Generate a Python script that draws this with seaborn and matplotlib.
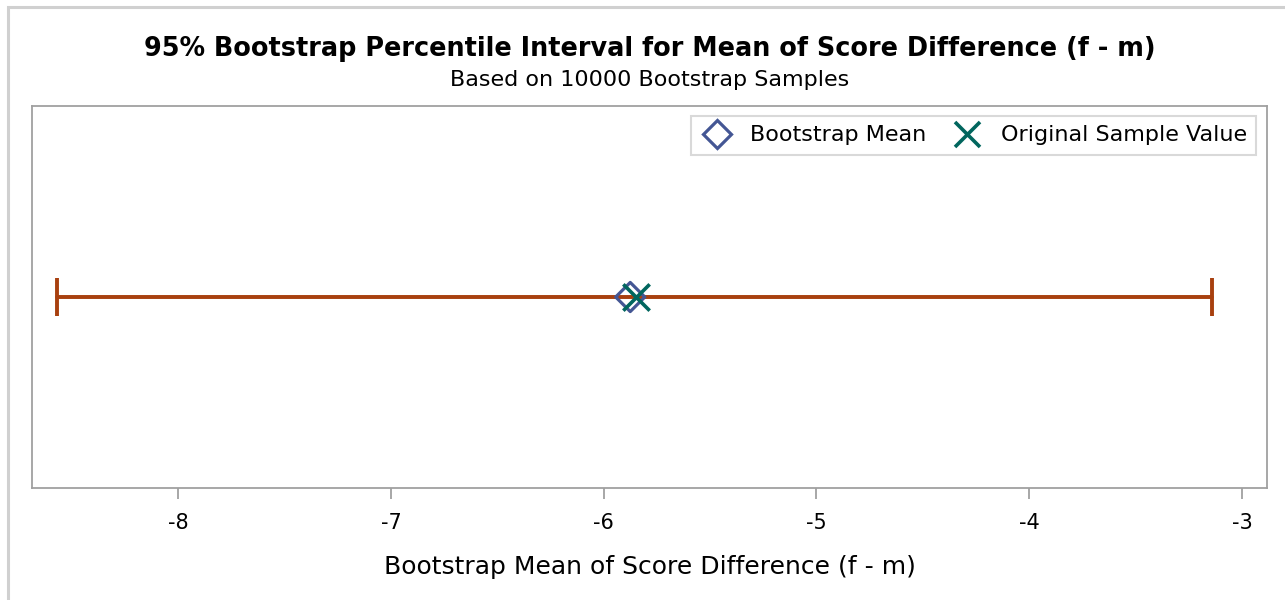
import matplotlib
matplotlib.use("Agg")
import matplotlib.pyplot as plt
import seaborn as sns
import pandas as pd
from matplotlib.patches import Rectangle
from matplotlib.lines import Line2D

# data
ci_lower = -8.57
ci_upper = -3.14
bootstrap_mean = -5.875
original_value = -5.85
xticks = [-8, -7, -6, -5, -4, -3]

title = "95% Bootstrap Percentile Interval for Mean of Score Difference (f - m)"
subtitle = "Based on 10000 Bootstrap Samples"
xlabel = "Bootstrap Mean of Score Difference (f - m)"

sns.set_theme(style="white")
plt.rcParams['font.family'] = ['DejaVu Sans']

C_BLUE = "#445694"
C_TEAL = "#01665E"
C_ERR = "#A8400F"
C_AX = "#A0A0A0"

fig = plt.figure(figsize=(12.85, 6.0), dpi=100)
ax = fig.add_axes([32/1285, (600-488)/600, (1267-32)/1285, (488-106)/600])

# outer frame
fig.patches.append(Rectangle((8/1285, -0.1), 1.2, (600-7)/600 + 0.1,
                             transform=fig.transFigure, fill=False,
                             edgecolor="#D0D0D0", linewidth=2.2, zorder=0))

df_ci = pd.DataFrame({"x": [ci_lower, ci_upper], "y": [0, 0]})
sns.lineplot(data=df_ci, x="x", y="y", ax=ax, color=C_ERR, linewidth=2.6,
             legend=False, zorder=2)
ax.errorbar([(ci_lower + ci_upper) / 2], [0],
            xerr=[[(ci_upper - ci_lower) / 2], [(ci_upper - ci_lower) / 2]],
            fmt="none", ecolor=C_ERR, elinewidth=2.6, capsize=14, capthick=2.8, zorder=2)

df_pts = pd.DataFrame({"x": [bootstrap_mean, original_value], "y": [0, 0],
                       "kind": ["Bootstrap Mean", "Original Sample Value"]})
sns.scatterplot(data=df_pts[df_pts.kind == "Bootstrap Mean"], x="x", y="y", ax=ax,
                marker="D", s=220, facecolor="none", edgecolor=C_BLUE,
                linewidth=2.3, zorder=3, legend=False)
sns.scatterplot(data=df_pts[df_pts.kind == "Original Sample Value"], x="x", y="y", ax=ax,
                marker="x", s=360, color=C_TEAL, linewidth=2.6, zorder=4, legend=False)

ax.set_xlim(-8.687, -2.882)
ax.set_ylim(-1, 1)
ax.set_yticks([])
ax.set_ylabel("")
ax.set_xticks(xticks)
ax.set_xticklabels([str(t) for t in xticks])
ax.tick_params(axis="x", direction="out", length=8, width=1.3, color=C_AX,
               labelsize=15, pad=10, labelcolor="black", bottom=True)
for sp in ax.spines.values():
    sp.set_color(C_AX)
    sp.set_linewidth(1.3)
ax.set_xlabel(xlabel, fontsize=18, labelpad=16, color="black")

handles = [
    Line2D([], [], marker="D", linestyle="none", markersize=14, markerfacecolor="none",
           markeredgecolor=C_BLUE, markeredgewidth=2.3, label="Bootstrap Mean"),
    Line2D([], [], marker="x", linestyle="none", markersize=18, color=C_TEAL,
           markeredgewidth=2.6, label="Original Sample Value"),
]
leg = ax.legend(handles=handles, loc="upper right", ncol=2, fontsize=16,
                frameon=True, fancybox=False, edgecolor="#D0D0D0",
                handletextpad=0.75, columnspacing=1.1, borderpad=0.42,
                handlelength=1.5, borderaxespad=0,
                bbox_to_anchor=((1256-32)/1235, (488-116)/382))
leg.get_frame().set_linewidth(1.5)
for t in leg.get_texts():
    t.set_color("black")

fig.text(650/1285, 1 - 56/600, title, ha="center", va="baseline",
         fontsize=18.4, fontweight="bold", color="black")
fig.text(650/1285, 1 - 86/600, subtitle, ha="center", va="baseline", fontsize=16,
         color="black")

fig.savefig("out.png", dpi=100)
